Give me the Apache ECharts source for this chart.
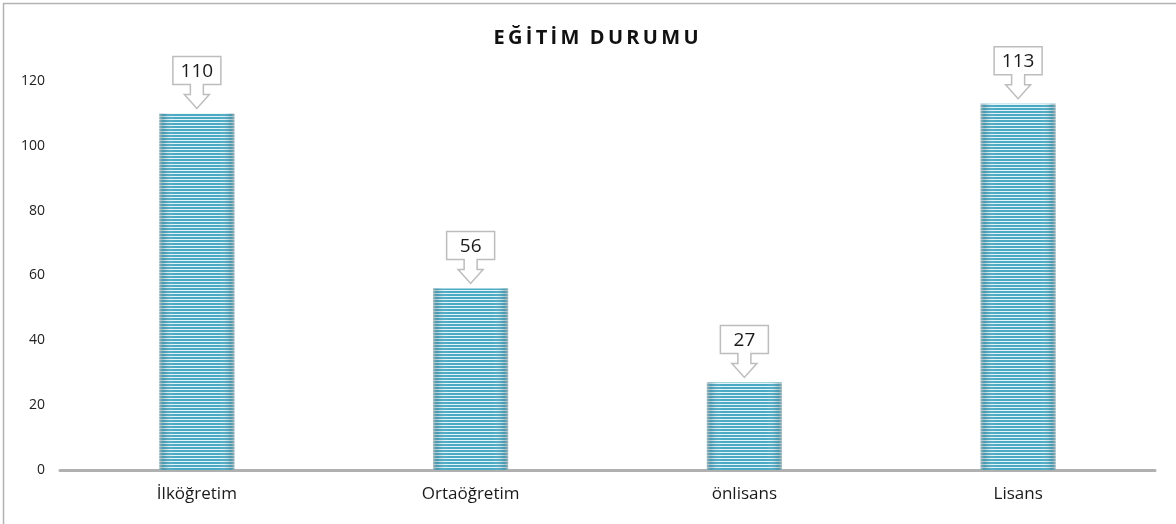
<!DOCTYPE html>
<html lang="tr">
<head>
    <meta charset="UTF-8">
    <title>egitim-durumu</title>
    <script src="https://cdn.jsdelivr.net/npm/echarts@6.0.0/dist/echarts.min.js"></script>
    <style>
        html, body { margin: 0; padding: 0; background: #fff; }
    </style>
</head>
<body>
<div id="main" style="width: 1176px;height:524px;"></div>
<script>
    // veriler
    var categories = ['İlköğretim', 'Ortaöğretim', 'önlisans', 'Lisans'];
    var counts = [110, 56, 27, 113];
    var yTicks = [0, 20, 40, 60, 80, 100, 120];

    // yatay çizgili desen
    var stripe = document.createElement('canvas');
    stripe.width = 4;
    stripe.height = 3;
    var sctx = stripe.getContext('2d');
    sctx.fillStyle = '#e4f3f7';
    sctx.fillRect(0, 0, 4, 3);
    sctx.fillStyle = '#4aaac4';
    sctx.fillRect(0, 0, 4, 2);

    var FONT = '"Open Sans", "Noto Sans", sans-serif';

    function calloutItem(params, api) {
        var p = api.coord([api.value(0), api.value(1)]);
        var cx = p[0];
        var ty = p[1] - 5;
        var pts = [
            [-24, -52], [24, -52], [24, -24], [6.5, -24], [6.5, -14], [12.5, -14],
            [0, 0], [-12.5, -14], [-6.5, -14], [-6.5, -24], [-24, -24]
        ].map(function (d) { return [cx + d[0], ty + d[1]]; });
        return {
            type: 'group',
            children: [
                {
                    type: 'polygon',
                    shape: { points: pts },
                    style: { fill: '#fff', stroke: '#bdbdbd', lineWidth: 1.5 }
                },
                {
                    type: 'text',
                    x: cx,
                    y: ty - 37,
                    style: {
                        text: String(api.value(1)),
                        fill: '#1a1a1a',
                        font: '19px ' + FONT,
                        align: 'center',
                        verticalAlign: 'middle'
                    }
                }
            ]
        };
    }

    var chart = echarts.init(document.getElementById('main'));
    var option = {
        backgroundColor: '#fff',
        animation: false,
        title: {
            text: 'E\u2009Ğ\u2009İ\u2009T\u2009İ\u2009M  D\u2009U\u2009R\u2009U\u2009M\u2009U',
            left: 591,
            textAlign: 'center',
            top: 23,
            textStyle: {
                fontFamily: FONT,
                fontSize: 20,
                fontWeight: 'bold',
                color: '#111'
            }
        },
        graphic: [{
            type: 'rect',
            shape: { x: 3.5, y: 3.5, width: 1300, height: 700 },
            style: { fill: 'none', stroke: '#b3b3b3', lineWidth: 1.5 },
            silent: true
        }],
        grid: {
            left: 60,
            right: 21,
            top: 81,
            bottom: 54
        },
        xAxis: {
            type: 'category',
            data: categories,
            axisLine: { lineStyle: { color: '#b0b0b0', width: 3 } },
            axisTick: { show: false },
            axisLabel: {
                fontFamily: FONT,
                fontSize: 17,
                color: '#1a1a1a',
                margin: 16
            }
        },
        yAxis: {
            type: 'value',
            min: yTicks[0],
            max: yTicks[yTicks.length - 1],
            interval: yTicks[1] - yTicks[0],
            axisLine: { show: false },
            axisTick: { show: false },
            splitLine: { show: false },
            axisLabel: {
                fontFamily: FONT,
                fontSize: 14,
                color: '#222',
                margin: 15
            }
        },
        series: [
            {
                type: 'bar',
                data: counts,
                barWidth: 75,
                itemStyle: { color: { image: stripe, repeat: 'repeat' } },
                z: 2
            },
            {
                type: 'bar',
                data: counts,
                barWidth: 75,
                barGap: '-100%',
                silent: true,
                itemStyle: {
                    color: new echarts.graphic.LinearGradient(0, 0, 1, 0, [
                        { offset: 0, color: 'rgba(190,190,190,0.75)' },
                        { offset: 0.06, color: 'rgba(60,110,125,0.25)' },
                        { offset: 0.2, color: 'rgba(255,255,255,0)' },
                        { offset: 0.8, color: 'rgba(255,255,255,0)' },
                        { offset: 0.94, color: 'rgba(60,110,125,0.25)' },
                        { offset: 1, color: 'rgba(190,190,190,0.75)' }
                    ])
                },
                z: 3
            },
            {
                type: 'custom',
                data: counts.map(function (v, i) { return [i, v]; }),
                renderItem: calloutItem,
                z: 5
            }
        ]
    };
    chart.setOption(option);
</script>
</body>
</html>
